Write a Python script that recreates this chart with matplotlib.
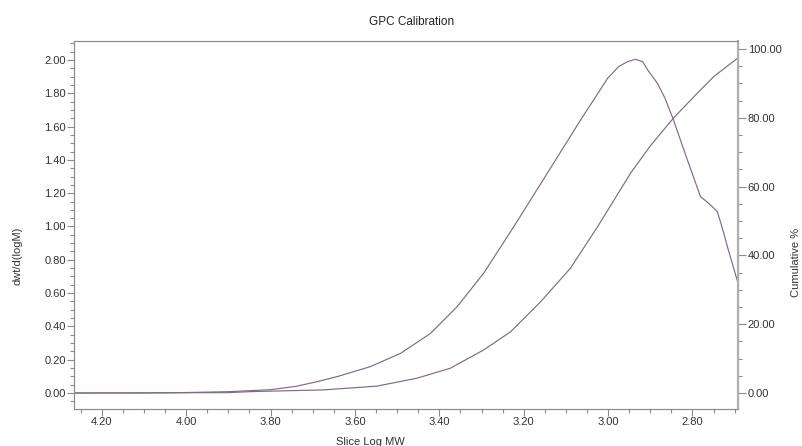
import matplotlib
matplotlib.use('Agg')
import matplotlib.pyplot as plt
from matplotlib.ticker import MultipleLocator, FormatStrFormatter

plt.rcParams['font.family'] = ['Liberation Sans', 'DejaVu Sans']

# dwt/d(logM) curve
logmw_diff = [4.266, 4.10, 4.00, 3.90, 3.80, 3.74, 3.69, 3.64, 3.564, 3.492,
              3.421, 3.358, 3.295, 3.224, 3.144, 3.065, 3.001, 2.975, 2.954,
              2.935, 2.918, 2.906, 2.883, 2.865, 2.845, 2.812, 2.781, 2.762,
              2.741, 2.728, 2.715, 2.692]
dwdlogm = [0.0, 0.0, 0.003, 0.008, 0.02, 0.04, 0.068, 0.10, 0.158, 0.238,
           0.358, 0.518, 0.719, 0.997, 1.32, 1.64, 1.89, 1.96, 1.99,
           2.004, 1.99, 1.94, 1.86, 1.77, 1.64, 1.40, 1.18, 1.14,
           1.09, 0.98, 0.86, 0.66]

# cumulative % curve
logmw_cum = [4.266, 3.90, 3.847, 3.675, 3.548, 3.453, 3.374, 3.295, 3.231,
             3.16, 3.089, 3.025, 2.946, 2.90, 2.845, 2.788, 2.749, 2.692]
cumulative = [0.0, 0.1, 0.4, 0.9, 2.0, 4.3, 7.2, 12.5, 17.8,
              26.5, 36.3, 48.3, 64.0, 71.8, 79.9, 87.2, 92.0, 97.4]

line_col = '#826a84'
grey = '#8c8c8c'

fig = plt.figure(figsize=(8.03, 4.46), dpi=100)
ax = fig.add_axes([74/803, 1-409/446, (738-74)/803, (409-41)/446])
ax2 = ax.twinx()

ax.plot(logmw_diff, dwdlogm, color=line_col, lw=0.85)
ax2.plot(logmw_cum, cumulative, color=line_col, lw=0.85)

ax.set_xlim(4.266, 2.692)
ax.set_ylim(-0.096, 2.114)
ax2.set_ylim(-4.65, 102.3)

ax.xaxis.set_major_locator(MultipleLocator(0.2))
ax.xaxis.set_minor_locator(MultipleLocator(0.05))
ax.yaxis.set_major_locator(MultipleLocator(0.2))
ax.yaxis.set_minor_locator(MultipleLocator(0.05))
ax2.yaxis.set_major_locator(MultipleLocator(20))
ax2.yaxis.set_minor_locator(MultipleLocator(5))
ax.xaxis.set_major_formatter(FormatStrFormatter('%.2f'))
ax.yaxis.set_major_formatter(FormatStrFormatter('%.2f'))
ax2.yaxis.set_major_formatter(FormatStrFormatter('%.2f'))

for a in (ax, ax2):
    for s in a.spines.values():
        s.set_color(grey)
        s.set_linewidth(0.8)
ax2.spines['right'].set_color('#b0b0b0')
ax2.spines['right'].set_linewidth(1.6)

ax.tick_params(axis='both', which='major', length=5, width=0.8, color=grey,
               labelsize=8, pad=1, labelcolor='#333333')
ax.tick_params(axis='both', which='minor', length=3, width=0.8, color=grey)
ax2.tick_params(axis='y', which='major', length=6, width=0.8, color=grey,
                labelsize=8, pad=1, labelcolor='#333333')
ax2.tick_params(axis='y', which='minor', length=3, width=0.8, color=grey)

fig.text(412/803, 1-22/446, 'GPC Calibration', ha='center', va='center',
         fontsize=8.5, color='#222222')
fig.text(18/803, 1-256/446, 'dwt/d(logM)', rotation=90, ha='center',
         va='center', fontsize=8, color='#333333')
fig.text(796/803, 1-262/446, 'Cumulative %', rotation=90, ha='center',
         va='center', fontsize=8, color='#333333')
fig.text(370/803, 1-442/446, 'Slice Log MW', ha='center', va='center',
         fontsize=8, color='#333333')

fig.savefig('out.png', dpi=100)
